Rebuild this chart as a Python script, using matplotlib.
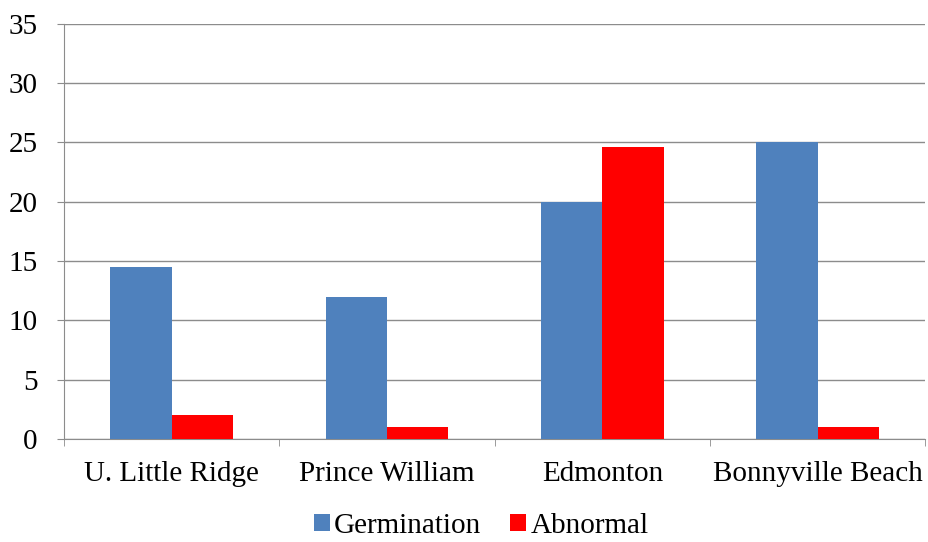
import matplotlib
matplotlib.use("Agg")
import matplotlib.pyplot as plt
import numpy as np

sites = ["U. Little Ridge", "Prince William", "Edmonton", "Bonnyville Beach"]
germination = [14.5, 12.0, 20.0, 25.0]
abnormal = [2.0, 1.0, 24.6, 1.0]
y_ticks = [0, 5, 10, 15, 20, 25, 30, 35]

plt.rcParams["font.family"] = ["Liberation Serif", "DejaVu Serif"]

fig = plt.figure(figsize=(9.29, 5.42), dpi=100)
ax = fig.add_axes([0.069, 0.19, 0.927, 0.766])

x = np.arange(len(sites))
w = 0.285
ax.bar(x - w / 2, germination, w, color="#4F81BD", label="Germination", zorder=3)
ax.bar(x + w / 2, abnormal, w, color="#FF0000", label="Abnormal", zorder=3)

ax.set_xlim(-0.5, len(sites) - 0.5)
ax.set_ylim(0, 35)
ax.set_yticks(y_ticks)
ax.set_yticklabels([str(v) for v in y_ticks], fontsize=21)
ax.yaxis.grid(True, color="#8c8c8c", linewidth=1.0, zorder=0)

ax.set_xticks(x)
ax.set_xticklabels(sites, fontsize=21)
ax.tick_params(axis="x", length=0, pad=16)
ax.set_xticks(np.arange(len(sites) + 1) - 0.5, minor=True)
ax.tick_params(axis="x", which="minor", length=5, color="#8c8c8c", direction="out")
ax.tick_params(axis="y", length=5, color="#8c8c8c", pad=14)

for s in ["top", "right"]:
    ax.spines[s].set_visible(False)
ax.spines["left"].set_color("#8c8c8c")
ax.spines["bottom"].set_color("#8c8c8c")

fig.legend(loc="center", bbox_to_anchor=(0.518, 0.03), ncol=2, frameon=False,
           fontsize=21, handlelength=0.55, handleheight=0.55, handletextpad=0.15,
           columnspacing=1.0)

fig.savefig("out.png", dpi=100, facecolor="white")
